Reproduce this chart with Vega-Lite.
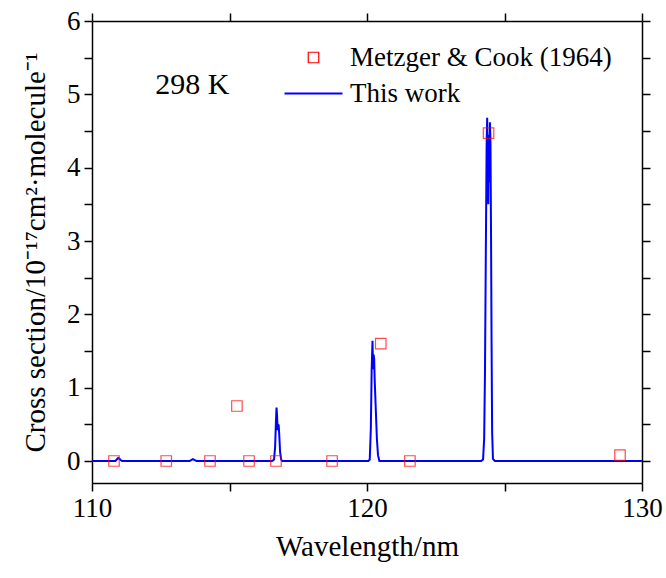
{
  "$schema": "https://vega.github.io/schema/vega-lite/v6.json",
  "width": 550,
  "height": 462,
  "autosize": {"type": "none"},
  "padding": {"left": 92, "top": 21, "right": 24, "bottom": 95},
  "background": "white",
  "config": {
    "font": "Liberation Serif",
    "view": {"stroke": null},
    "axis": {
      "grid": false,
      "domainColor": "black",
      "domainWidth": 1.5,
      "tickColor": "black",
      "tickWidth": 1.5,
      "tickSize": 8,
      "labelColor": "black",
      "titleColor": "black",
      "labelFont": "Liberation Serif",
      "titleFont": "Liberation Serif",
      "labelFontSize": 27,
      "titleFontSize": 29,
      "titleFontWeight": "normal",
      "labelFlush": false,
      "labelOverlap": false
    }
  },
  "datasets": {
    "line": [
      {"wl": 110, "cs": 0, "series": "This work"},
      {"wl": 110.85, "cs": 0, "series": "This work"},
      {"wl": 110.9, "cs": 0.02, "series": "This work"},
      {"wl": 110.95, "cs": 0.04, "series": "This work"},
      {"wl": 111.0, "cs": 0.03, "series": "This work"},
      {"wl": 111.05, "cs": 0.01, "series": "This work"},
      {"wl": 111.1, "cs": 0, "series": "This work"},
      {"wl": 113.55, "cs": 0, "series": "This work"},
      {"wl": 113.62, "cs": 0.015, "series": "This work"},
      {"wl": 113.67, "cs": 0.025, "series": "This work"},
      {"wl": 113.72, "cs": 0.015, "series": "This work"},
      {"wl": 113.8, "cs": 0, "series": "This work"},
      {"wl": 116.55, "cs": 0, "series": "This work"},
      {"wl": 116.62, "cs": 0.02, "series": "This work"},
      {"wl": 116.66, "cs": 0.2, "series": "This work"},
      {"wl": 116.69, "cs": 0.55, "series": "This work"},
      {"wl": 116.71, "cs": 0.73, "series": "This work"},
      {"wl": 116.73, "cs": 0.62, "series": "This work"},
      {"wl": 116.75, "cs": 0.42, "series": "This work"},
      {"wl": 116.77, "cs": 0.5, "series": "This work"},
      {"wl": 116.79, "cs": 0.48, "series": "This work"},
      {"wl": 116.81, "cs": 0.35, "series": "This work"},
      {"wl": 116.84, "cs": 0.12, "series": "This work"},
      {"wl": 116.88, "cs": 0.02, "series": "This work"},
      {"wl": 116.92, "cs": 0, "series": "This work"},
      {"wl": 120.05, "cs": 0, "series": "This work"},
      {"wl": 120.1, "cs": 0.02, "series": "This work"},
      {"wl": 120.14, "cs": 0.45, "series": "This work"},
      {"wl": 120.17, "cs": 1.25, "series": "This work"},
      {"wl": 120.2, "cs": 1.64, "series": "This work"},
      {"wl": 120.22, "cs": 1.25, "series": "This work"},
      {"wl": 120.24, "cs": 1.45, "series": "This work"},
      {"wl": 120.26, "cs": 1.39, "series": "This work"},
      {"wl": 120.28, "cs": 1.1, "series": "This work"},
      {"wl": 120.32, "cs": 0.7, "series": "This work"},
      {"wl": 120.36, "cs": 0.3, "series": "This work"},
      {"wl": 120.4, "cs": 0.08, "series": "This work"},
      {"wl": 120.45, "cs": 0, "series": "This work"},
      {"wl": 124.15, "cs": 0, "series": "This work"},
      {"wl": 124.22, "cs": 0.02, "series": "This work"},
      {"wl": 124.26, "cs": 0.3, "series": "This work"},
      {"wl": 124.29, "cs": 1.2, "series": "This work"},
      {"wl": 124.32, "cs": 2.8, "series": "This work"},
      {"wl": 124.35, "cs": 4.3, "series": "This work"},
      {"wl": 124.37, "cs": 4.68, "series": "This work"},
      {"wl": 124.39, "cs": 4.1, "series": "This work"},
      {"wl": 124.41, "cs": 3.5, "series": "This work"},
      {"wl": 124.43, "cs": 4.45, "series": "This work"},
      {"wl": 124.45, "cs": 3.8, "series": "This work"},
      {"wl": 124.47, "cs": 4.62, "series": "This work"},
      {"wl": 124.49, "cs": 4.35, "series": "This work"},
      {"wl": 124.51, "cs": 3.1, "series": "This work"},
      {"wl": 124.53, "cs": 1.6, "series": "This work"},
      {"wl": 124.55, "cs": 0.4, "series": "This work"},
      {"wl": 124.58, "cs": 0.03, "series": "This work"},
      {"wl": 124.65, "cs": 0, "series": "This work"},
      {"wl": 130, "cs": 0, "series": "This work"}
    ],
    "pts": [
      {"wl": 110.8, "cs": 0, "series": "Metzger & Cook (1964)"},
      {"wl": 112.7, "cs": 0, "series": "Metzger & Cook (1964)"},
      {"wl": 114.29, "cs": 0, "series": "Metzger & Cook (1964)"},
      {"wl": 115.27, "cs": 0.75, "series": "Metzger & Cook (1964)"},
      {"wl": 115.71, "cs": 0, "series": "Metzger & Cook (1964)"},
      {"wl": 116.69, "cs": 0, "series": "Metzger & Cook (1964)"},
      {"wl": 118.73, "cs": 0, "series": "Metzger & Cook (1964)"},
      {"wl": 120.5, "cs": 1.6, "series": "Metzger & Cook (1964)"},
      {"wl": 121.56, "cs": 0, "series": "Metzger & Cook (1964)"},
      {"wl": 124.42, "cs": 4.47, "series": "Metzger & Cook (1964)"},
      {"wl": 129.2, "cs": 0.08, "series": "Metzger & Cook (1964)"}
    ]
  },
  "layer": [
    {
      "data": {"name": "line"},
      "mark": {"type": "line", "strokeWidth": 2, "clip": true},
      "encoding": {
        "x": {
          "field": "wl", "type": "quantitative",
          "scale": {"domain": [110, 130], "nice": false, "zero": false},
          "axis": {
            "orient": "bottom",
            "values": [110, 115, 120, 125, 130],
            "labelExpr": "datum.value % 10 === 0 ? format(datum.value, 'd') : ''",
            "encode": {"ticks": {"update": {"y2": {"signal": "datum.value % 10 !== 0 ? 4 : 8"}}}},
            "labelPadding": 4,
            "title": "Wavelength/nm",
            "titlePadding": 11
          }
        },
        "y": {
          "field": "cs", "type": "quantitative",
          "scale": {"domain": [-0.3, 6], "nice": false, "zero": false},
          "axis": {
            "orient": "left",
            "values": [0, 0.5, 1, 1.5, 2, 2.5, 3, 3.5, 4, 4.5, 5, 5.5, 6],
            "labelExpr": "datum.value % 1 === 0 ? format(datum.value, 'd') : ''",
            "encode": {"ticks": {"update": {"x2": {"signal": "datum.value % 1 !== 0 ? -4 : -8"}}}},
            "labelPadding": 4,
            "title": "Cross section/10⁻¹⁷cm²·molecule⁻¹",
            "titlePadding": 16
          }
        },
        "color": {
          "field": "series", "type": "nominal",
          "scale": {"domain": ["Metzger & Cook (1964)", "This work"], "range": ["red", "blue"]},
          "legend": {
            "title": null,
            "orient": "none",
            "legendX": 208,
            "legendY": 23,
            "padding": 0,
            "symbolSize": 3364,
            "symbolType": "stroke",
            "labelFont": "Liberation Serif",
            "labelFontSize": 27,
            "labelColor": "black",
            "labelOffset": 23,
            "labelLimit": 500,
            "rowPadding": 8,
            "encode": {
              "symbols": {
                "update": {
                  "shape": {"signal": "datum.value === 'This work' ? 'stroke' : 'square'"},
                  "size": {"signal": "datum.value === 'This work' ? 3364 : 110"},
                  "stroke": {"signal": "datum.value === 'This work' ? 'blue' : 'red'"},
                  "strokeWidth": {"signal": "datum.value === 'This work' ? 2 : 1.2"},
                  "fill": {"value": "transparent"}
                }
              }
            }
          }
        }
      }
    },
    {
      "data": {"name": "pts"},
      "mark": {"type": "point", "shape": "square", "size": 110, "strokeWidth": 1.2, "filled": false, "clip": true},
      "encoding": {
        "x": {
          "field": "wl", "type": "quantitative",
          "axis": {
            "orient": "top",
            "values": [110, 115, 120, 125, 130],
            "labels": false,
            "encode": {"ticks": {"update": {"y2": {"signal": "datum.value % 10 !== 0 ? 4 : 8"}}}},
            "title": null
          }
        },
        "y": {
          "field": "cs", "type": "quantitative",
          "axis": {
            "orient": "right",
            "values": [0, 0.5, 1, 1.5, 2, 2.5, 3, 3.5, 4, 4.5, 5, 5.5, 6],
            "labels": false,
            "encode": {"ticks": {"update": {"x2": {"signal": "datum.value % 1 !== 0 ? -4 : -8"}}}},
            "title": null
          }
        },
        "color": {"field": "series", "type": "nominal"}
      }
    },
    {
      "data": {"values": [{"wl": 112.3, "cs": 5.0, "t": "298 K"}]},
      "mark": {"type": "text", "align": "left", "baseline": "alphabetic", "fontSize": 30, "font": "Liberation Serif", "color": "black"},
      "encoding": {
        "x": {"field": "wl", "type": "quantitative", "axis": null},
        "y": {"field": "cs", "type": "quantitative", "axis": null},
        "text": {"field": "t"}
      }
    }
  ],
  "resolve": {"axis": {"x": "independent", "y": "independent"}}
}
